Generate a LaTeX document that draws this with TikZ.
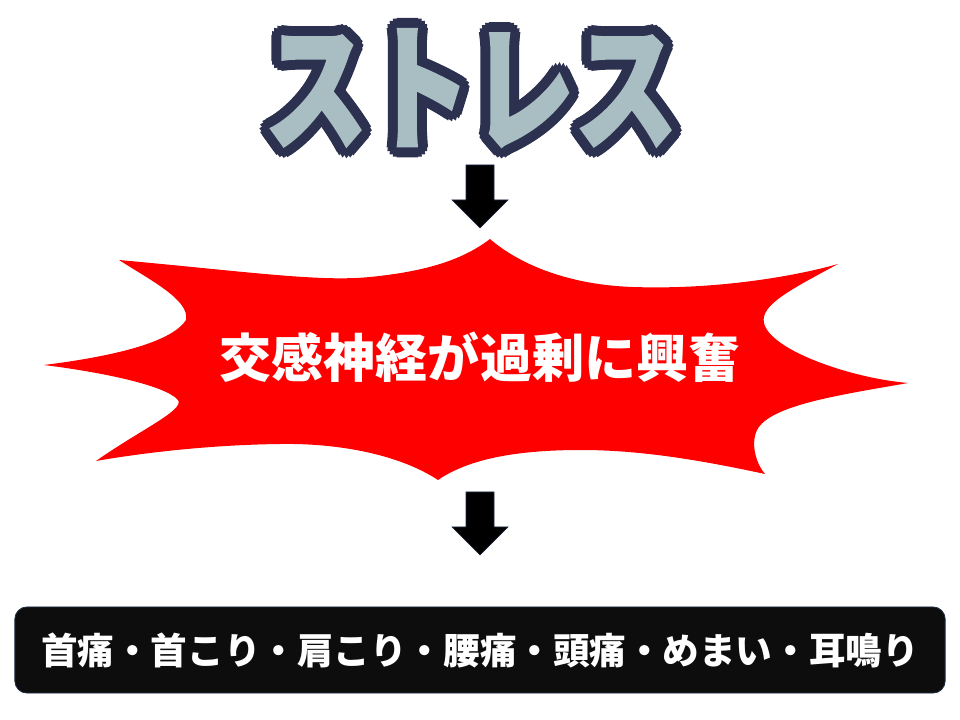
\documentclass[tikz,border=0pt]{standalone}
\usepackage{fontspec}
\newfontfamily\jp{Noto Sans CJK JP}
\newfontfamily\jptitle{Noto Sans CJK JP}[FakeBold=1.5]
\usetikzlibrary{calc}
\definecolor{burstred}{HTML}{FF0000}
\definecolor{boxblack}{HTML}{0D0D0D}
\definecolor{boxedge}{HTML}{1F2A44}
\definecolor{titlefill}{HTML}{A9BEC3}
\definecolor{titleedge}{HTML}{2C3150}
\tikzset{
  titletext/.style={font=\jptitle\bfseries\fontsize{98}{98}\selectfont, xscale=0.75, inner sep=0pt},
  blockarrow/.pic={
    \filldraw[fill=black, draw=boxedge, line width=0.4pt]
      (-14,-31.5) -- (14,-31.5) -- (14,3.5) -- (28,3.5) -- (0,31.5)
      -- (-28,3.5) -- (-14,3.5) -- cycle;
  },
  bursttext/.style={font=\jp\bfseries\fontsize{37}{40}\selectfont, text=white, inner sep=0pt},
  symptombox/.style={rounded corners=0.3cm, fill=boxblack, draw=boxedge, line width=0.6pt,
    minimum width=23.25cm, minimum height=2.15cm, text=white,
    font=\jp\bfseries\fontsize{26}{30}\selectfont}
}

\begin{document}
\begin{tikzpicture}[x=0.025cm, y=-0.025cm]
    \useasboundingbox (0,0) rectangle (960,720);

    % red burst
    \fill[burstred] (119,260) .. controls (250,272) and (320,282) .. (370,277)
        .. controls (420,272) and (460,262) .. (490,239)
        .. controls (520,265) and (570,285) .. (633,287)
        .. controls (720,290) and (800,275) .. (838,264)
        .. controls (790,290) and (760,305) .. (764,323)
        .. controls (770,350) and (850,378) .. (908,383)
        .. controls (840,395) and (770,405) .. (757,430)
        .. controls (750,445) and (757,465) .. (765,474)
        .. controls (700,460) and (640,450) .. (581,450)
        .. controls (520,450) and (470,458) .. (438,480)
        .. controls (400,455) and (340,443) .. (280,444)
        .. controls (200,445) and (130,455) .. (96,461)
        .. controls (140,430) and (185,410) .. (178,400)
        .. controls (165,385) and (100,372) .. (44,365)
        .. controls (100,358) and (170,345) .. (186,320)
        .. controls (190,300) and (150,280) .. (119,260) -- cycle;

    % title with outline
    \foreach \r in {5,10}
        \foreach \a in {0,22.5,...,337.5}
            \node[titletext, text=titleedge] at ($(471,88)+(\a:\r)$) {ストレス};
    \node[titletext, text=titlefill] (title) at (471,88) {ストレス};

    % place nodes
    \pic at (480,196.5) {blockarrow};
    \node[bursttext] (excite) at (480,357) {交感神経が過剰に興奮};
    \pic at (480,523.5) {blockarrow};
    \node[symptombox] (symptoms) at (480,650) {首痛・首こり・肩こり・腰痛・頭痛・めまい・耳鳴り};
\end{tikzpicture}
\end{document}
